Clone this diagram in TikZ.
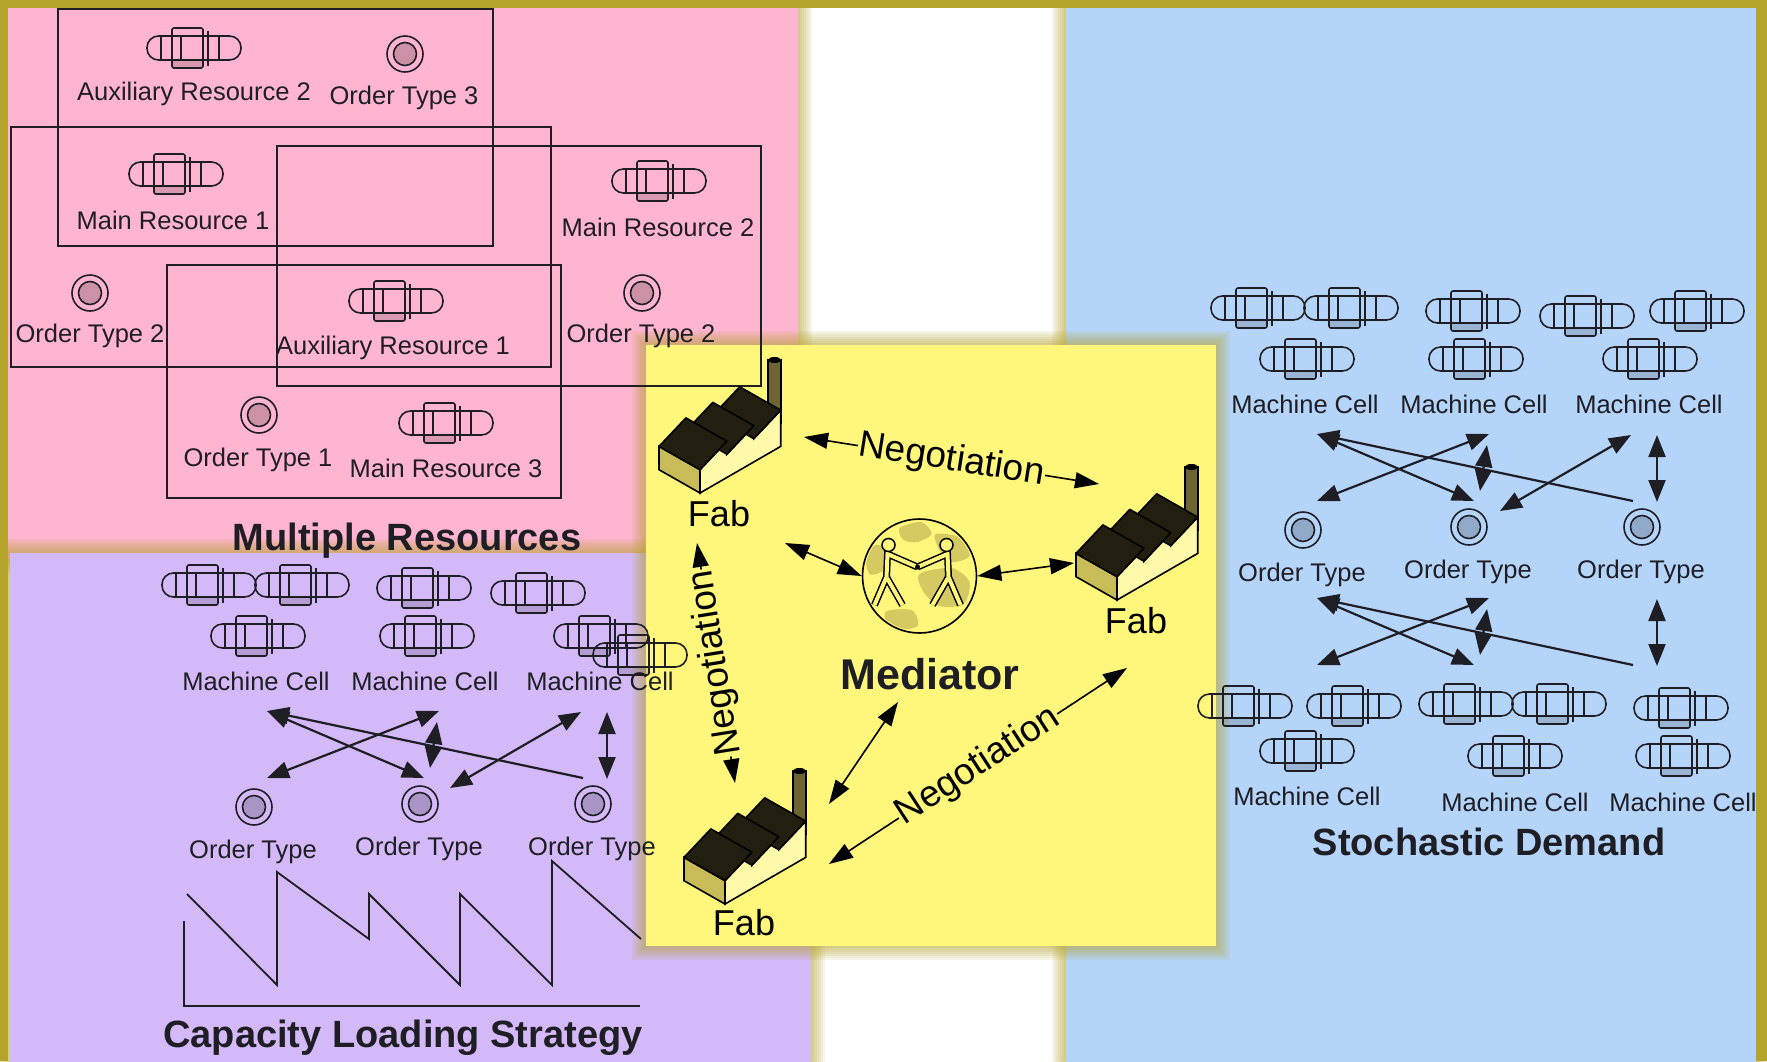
\documentclass[tikz,border=0pt]{standalone}
\usepackage{fontspec}
\setmainfont{Liberation Sans}
\usetikzlibrary{arrows.meta}

\definecolor{frame}{HTML}{B4A42C}
\definecolor{pinkbg}{HTML}{FFB4D1}
\definecolor{lilacbg}{HTML}{D4B9F8}
\definecolor{bluebg}{HTML}{B5D4FA}
\definecolor{yellowbg}{HTML}{FFF77C}
\definecolor{roof}{HTML}{221E10}
\definecolor{wall}{HTML}{C7BC58}
\definecolor{stack}{HTML}{6D6432}
\definecolor{ink}{HTML}{1E1E24}

\tikzset{
  icon/.style={draw=ink, line width=1.6pt},
  lbl/.style={font=\fontsize{25.5}{28}\selectfont, text=ink, inner sep=0pt},
  head/.style={font=\fontsize{38}{42}\selectfont\bfseries, text=ink, inner sep=0pt},
  fablbl/.style={font=\fontsize{36}{40}\selectfont, inner sep=0pt},
  nego/.style={font=\fontsize{37}{40}\selectfont, fill=yellowbg, inner sep=1pt},
  disc/.style={circle, icon, minimum size=36pt, inner sep=0pt,
    path picture={\draw[icon, fill=black, fill opacity=.2]
      (path picture bounding box.center) circle (11.5pt);}},
  framebox/.style={draw=ink, line width=1.8pt},
  link/.style={draw=ink, line width=2.2pt, >={Triangle[length=22pt,width=17pt]}, <->},
  onelink/.style={draw=ink, line width=2.2pt, >={Triangle[length=22pt,width=17pt]}, <-},
  talk/.style={draw=black, line width=1.6pt, >={Triangle[length=24pt,width=16pt]}, <->},
  limb/.style={draw=black, line width=1.5pt, double=yellowbg, double distance=4pt},
  machine/.pic={
    \draw[icon, rounded corners=11.5pt] (-47,-12) rectangle (47,12);
    \fill[black, opacity=.15] (-22,12) rectangle (9,20);
    \draw[icon, rounded corners=2pt] (-22,-20) rectangle (9,20);
    \foreach \u in {-33,-13,25}
      \draw[icon] (\u,-12) -- (\u,12);
    \draw[icon] (14,-17) -- (14,18);
  },
  factory/.pic={
    \draw[stack, fill=stack, draw=black, line width=1.2pt] (68,-133) rectangle (81,-70);
    \fill[black] (74.5,-133) ellipse [x radius=6.5, y radius=3];
    \draw[black, line width=1.6pt, fill=wall] (0,0) -- (-41,-23.3) -- (-41,-46.6) -- (0,-23.3) -- cycle;
    \draw[black, line width=1.6pt, fill=yellowbg!65!white] (0,0) -- (0,-23.3) -- (26.9,-51.8) -- (26.9,-38.8)
      -- (53.8,-67.4) -- (53.8,-54.4) -- (80.7,-82.9) -- (80.7,-46.6) -- cycle;
    \foreach \i in {2,1,0}
      \draw[fill=roof, draw=black, line width=1.6pt, line join=round]
        (26.9*\i,-15.53*\i-23.3) -- (26.9*\i+26.9,-15.53*\i-51.8)
        -- (26.9*\i-14.1,-15.53*\i-75.1) -- (26.9*\i-41,-15.53*\i-46.6) -- cycle;
  }
}

\begin{document}
\begin{tikzpicture}[x=1pt, y=-1pt]
  \useasboundingbox (0,0) rectangle (1767,1061);
  \fill[frame] (0,0) rectangle (1767,1061);
  \fill[white] (8,8) rectangle (1756,1061);
  \foreach \col/\xa/\ya/\xb/\yb in {pinkbg/8/8/798/560, lilacbg/10/553/811/1080,
      bluebg/1066/8/1756/1080, yellowbg/646/345/1216/946}{
    \foreach \g in {2,4,...,14}
      \fill[frame, opacity=.1] (\xa-\g,\ya-\g) rectangle (\xb+\g,\yb+\g);
    \fill[\col] (\xa,\ya) rectangle (\xb,\yb);
  }

  \draw[framebox] (58,9) rectangle (493,246);
  \draw[framebox] (11,127) rectangle (551,367);
  \draw[framebox] (277,146) rectangle (761,386);
  \draw[framebox] (167,265) rectangle (561,498);
  \foreach \x/\y in {194/48, 176/174, 659/181, 396/301, 446/423}
    \pic at (\x,\y) {machine};
  \node[disc] (ot3) at (405,54) {};
  \node[disc] (ot2a) at (90,293) {};
  \node[disc] (ot2b) at (642,293) {};
  \node[disc] (ot1) at (259,415) {};
  \node[lbl] (aux2) at (194,94) {Auxiliary Resource 2};
  \node[lbl] (ot3l) at (404,98) {Order Type 3};
  \node[lbl] (main1) at (173,220) {Main Resource 1};
  \node[lbl] (main2) at (658,227) {Main Resource 2};
  \node[lbl] (ot2al) at (90,336) {Order Type 2};
  \node[lbl] (aux1) at (393,348) {Auxiliary Resource 1};
  \node[lbl] (ot2bl) at (641,336) {Order Type 2};
  \node[lbl] (ot1l) at (258,460) {Order Type 1};
  \node[lbl] (main3) at (446,468) {Main Resource 3};
  \node[head] (mr) at (407,541) {Multiple Resources};

  \foreach \dx/\dy/\s in {0/0/c, 1049/-277/d}{
    \begin{scope}[shift={(\dx,\dy)}]
      \foreach \x/\y in {209/585, 302/585, 424/588, 538/593, 258/636, 427/636, 601/636}
        \pic at (\x,\y) {machine};
      \foreach \x/\i in {256/1, 425/2, 600/3}
        \node[lbl] (mc\i\s) at (\x,681) {Machine Cell};
      \foreach \x/\y/\i in {254/807/1, 420/804/2, 593/804/3}{
        \node[disc] (ot\i\s) at (\x,\y) {};
        \node[lbl] (otl\i\s) at (\x-1,\y+45) {Order Type};
      }
    \end{scope}
  }
  \pic at (640,655) {machine};
  \pic at (1697,311) {machine};

  \foreach \x/\y in {1245/706, 1354/706, 1466/704, 1559/704, 1681/708, 1307/751, 1515/756, 1683/756}
    \pic at (\x,\y) {machine};
  \node[lbl] (mc1e) at (1307,796) {Machine Cell};
  \node[lbl] (mc2e) at (1515,802) {Machine Cell};
  \node[lbl] (mc3e) at (1683,802) {Machine Cell};

  \foreach \dx/\dy/\e in {0/0/1, 1050/-277/1, 1050/-113/0}{
    \begin{scope}[shift={(\dx,\dy)}]
      \coordinate (u1) at (267,711);
      \coordinate (u2) at (439,711);
      \coordinate (u3) at (581,712);
      \coordinate (u4) at (607,712);
      \coordinate (d1) at (267,778);
      \coordinate (d2) at (424,778);
      \coordinate (d3) at (583,778);
      \coordinate (d4) at (607,779);
      \coordinate (d5) at (450,788);
      \draw[onelink] (u1) -- (d3);
      \draw[link] (u1) -- (d2);
      \draw[link] (d1) -- (u2);
      \draw[link] (437,722) -- (430,768);
      \ifnum\e=1 \draw[link] (u3) -- (d5); \fi
      \draw[link] (u4) -- (d4);
    \end{scope}
  }

  \draw[ink, line width=1.8pt] (184,921) |- (640,1006);
  \draw[ink, line width=1.8pt] (187,894) -- (277,985) -- (277,872) -- (369,939) -- (369,894)
    -- (460,985) -- (460,894) -- (552,985) -- (552,861) -- (641,939);
  \node[head] (cls) at (403,1038) {Capacity Loading Strategy};
  \node[head] (sd) at (1489,842) {Stochastic Demand};

  \pic at (700,493) {factory};
  \pic at (1117,600) {factory};
  \pic at (725,904) {factory};
  \node[fablbl] (fabA) at (719,514) {Fab};
  \node[fablbl] (fabB) at (1136,621) {Fab};
  \node[fablbl] (fabC) at (744,923) {Fab};

  \node[circle, draw=black, line width=1.6pt, minimum size=114pt, inner sep=0pt] (med) at (919.5,576) {};
  \begin{scope}[shift={(med.center)}]
    \clip (0,0) circle (55);
    \fill[wall, opacity=.75] plot[smooth cycle] coordinates {(-20,-48) (2,-54) (12,-42) (-2,-34) (-16,-36)};
    \fill[wall, opacity=.75] plot[smooth cycle] coordinates {(16,-42) (42,-38) (50,-20) (32,-14) (20,-26)};
    \fill[wall, opacity=.75] plot[smooth cycle] coordinates {(-54,-26) (-38,-30) (-34,-8) (-50,-2)};
    \fill[wall, opacity=.75] plot[smooth cycle] coordinates {(0,-2) (32,-8) (50,6) (44,28) (20,30) (4,16)};
    \fill[wall, opacity=.75] plot[smooth cycle] coordinates {(-34,36) (-8,34) (-2,50) (-28,54)};
  \end{scope}
  \foreach \m in {1,-1}{
    \begin{scope}[shift={(917.5,576)}, xscale=\m]
      \draw[limb] (-43,29) -- (-31,1) -- (-15,29);
      \draw[limb] (-31,1) -- (-30,-22) -- (0,-9);
      \draw[black, line width=1.5pt, fill=yellowbg] (-29,-31) circle (6.5);
    \end{scope}
  }
  \fill[black] (917.5,567) circle (2.5);
  \node[head, font=\fontsize{43}{46}\selectfont\bfseries] (medl) at (930,674) {Mediator};

  \coordinate (a1) at (804,437);
  \coordinate (a2) at (1099,484);
  \coordinate (b1) at (697,543);
  \coordinate (b2) at (735,783);
  \coordinate (c1) at (829,864);
  \coordinate (c2) at (1127,668);
  \coordinate (e1) at (785,543);
  \coordinate (e2) at (1074,563);
  \coordinate (e3) at (898,702);
  \coordinate (e4) at (829,804);
  \draw[talk] (a1) -- node[nego, rotate=-9] (n1) {Negotiation} (a2);
  \draw[talk] (b1) -- node[nego, rotate=99] (n2) {Negotiation} (b2);
  \draw[talk] (c1) -- node[nego, rotate=33] (n3) {Negotiation} (c2);
  \draw[talk] (e1) -- (med.west);
  \draw[talk] (med.east) -- (e2);
  \draw[talk] (e3) -- (e4);
\end{tikzpicture}
\end{document}
